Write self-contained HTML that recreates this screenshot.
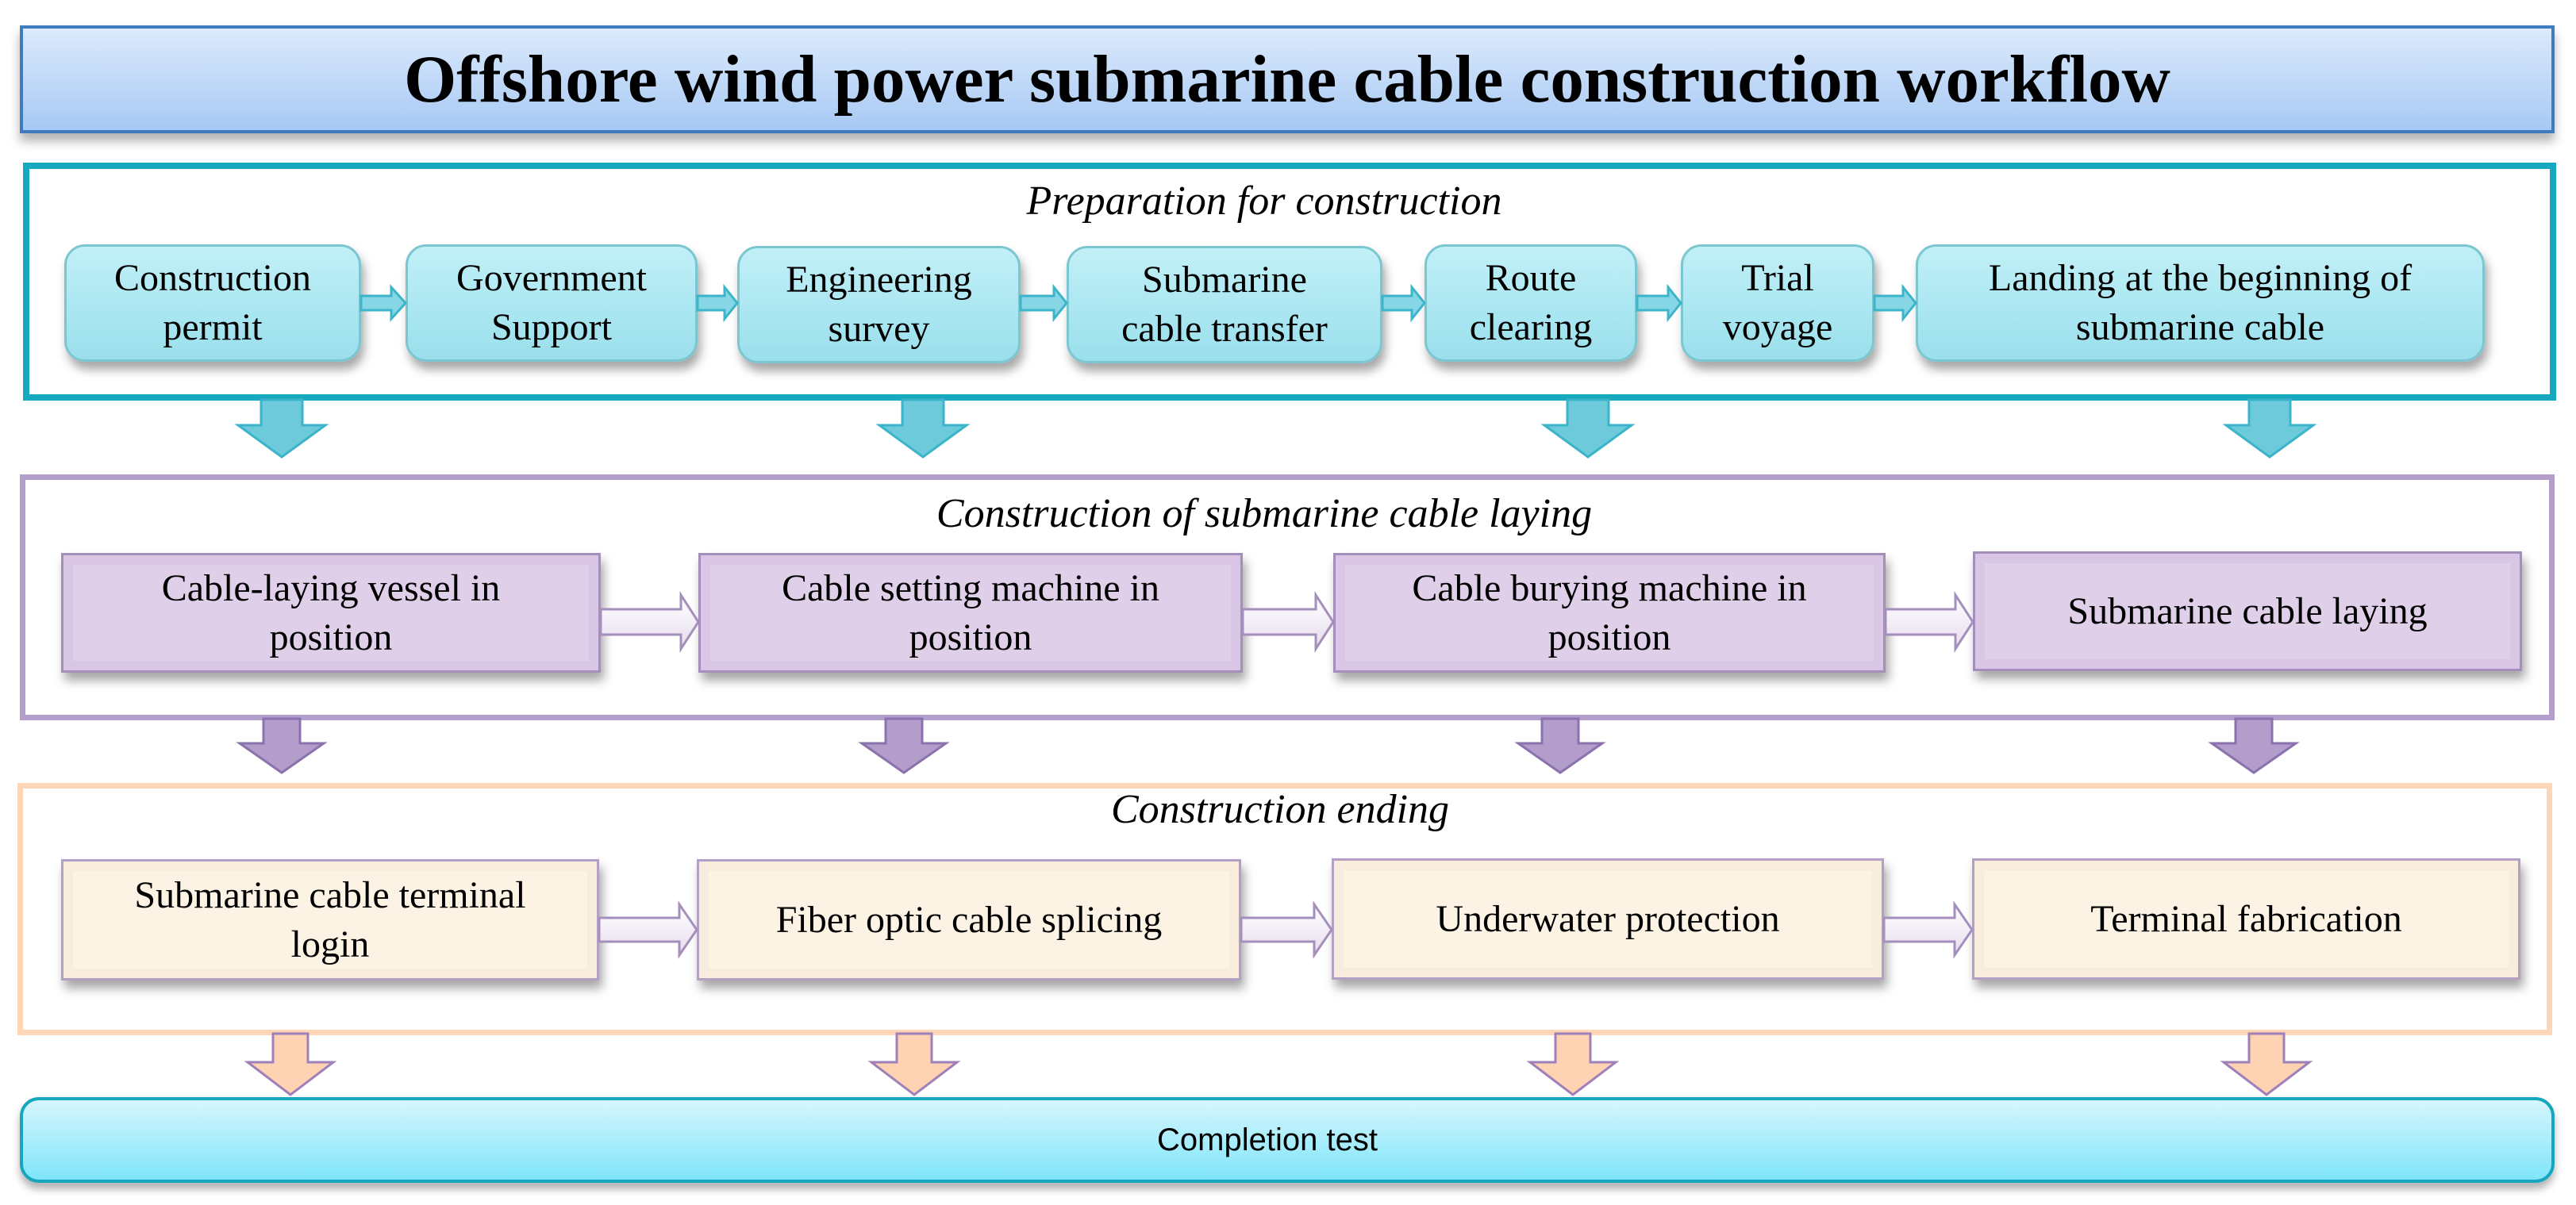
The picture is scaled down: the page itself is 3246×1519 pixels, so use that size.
<!DOCTYPE html>
<html><head><meta charset="utf-8">
<style>
body{margin:0;width:3246px;height:1519px;background:#fff;position:relative;overflow:hidden;font-family:"Liberation Serif",serif;}
.abs{position:absolute;box-sizing:border-box;}
.t{display:flex;align-items:center;justify-content:center;text-align:center;color:#000;}
.cy{border:3px solid #7cc6d2;border-radius:26px;background:linear-gradient(#c2f0f7,#a9e6f1 60%,#9adfeb);box-shadow:4px 10px 12px rgba(0,0,0,0.35);font-size:48px;line-height:62px;}
.pu{border:3px solid #a48fba;background:#e0cfe9;box-shadow:inset 0 0 0 12px #d9c6e4,4px 10px 12px rgba(0,0,0,0.35);font-size:48px;line-height:62px;}
.or{border:3px solid #b3a0c4;background:#fdf3e4;box-shadow:inset 0 0 0 12px #f8ecdc,4px 10px 12px rgba(0,0,0,0.35);font-size:48px;line-height:62px;}
.lab{font-style:italic;font-size:52px;width:3246px;left:0;text-align:center;}
</style></head><body>
<div class="abs t" style="left:25px;top:32px;width:3194px;height:136px;border:4px solid #3f7bbd;background:linear-gradient(#dceafc,#a7c9f4);box-shadow:0 10px 12px rgba(0,0,0,0.3);font-weight:bold;font-size:85px;">Offshore wind power submarine cable construction workflow</div>

<div class="abs" style="left:29px;top:205px;width:3192px;height:300px;border:8px solid #17a9bf;"></div>
<div class="abs" style="left:25px;top:598px;width:3194px;height:310px;border:7px solid #b49fca;"></div>
<div class="abs" style="left:22px;top:987px;width:3194px;height:318px;border:7px solid #fdd5b7;"></div>

<div class="abs lab" style="top:224px;left:-30px;">Preparation for construction</div>
<div class="abs lab" style="top:618px;left:-30px;">Construction of submarine cable laying</div>
<div class="abs lab" style="top:991px;left:-10px;">Construction ending</div>

<div class="abs t cy" style="left:81px;top:308px;width:374px;height:148px;">Construction<br>permit</div>
<div class="abs t cy" style="left:511px;top:308px;width:368px;height:148px;">Government<br>Support</div>
<div class="abs t cy" style="left:929px;top:310px;width:357px;height:148px;">Engineering<br>survey</div>
<div class="abs t cy" style="left:1344px;top:310px;width:398px;height:148px;">Submarine<br>cable transfer</div>
<div class="abs t cy" style="left:1795px;top:308px;width:268px;height:148px;">Route<br>clearing</div>
<div class="abs t cy" style="left:2118px;top:308px;width:244px;height:148px;">Trial<br>voyage</div>
<div class="abs t cy" style="left:2414px;top:308px;width:717px;height:148px;">Landing at the beginning of<br>submarine cable</div>

<div class="abs t pu" style="left:77px;top:697px;width:680px;height:151px;">Cable-laying vessel in<br>position</div>
<div class="abs t pu" style="left:880px;top:697px;width:686px;height:151px;">Cable setting machine in<br>position</div>
<div class="abs t pu" style="left:1680px;top:697px;width:696px;height:151px;">Cable burying machine in<br>position</div>
<div class="abs t pu" style="left:2486px;top:695px;width:692px;height:151px;">Submarine cable laying</div>

<div class="abs t or" style="left:77px;top:1083px;width:678px;height:153px;">Submarine cable terminal<br>login</div>
<div class="abs t or" style="left:878px;top:1083px;width:686px;height:153px;">Fiber optic cable splicing</div>
<div class="abs t or" style="left:1678px;top:1082px;width:696px;height:153px;">Underwater protection</div>
<div class="abs t or" style="left:2485px;top:1082px;width:691px;height:153px;">Terminal fabrication</div>

<div class="abs t" style="left:25px;top:1383px;width:3194px;height:108px;padding-right:50px;border:4px solid #16a6bd;border-radius:24px;background:linear-gradient(#d6f6fd,#7fe5fa);box-shadow:0 8px 10px rgba(0,0,0,0.3);font-family:'Liberation Sans',sans-serif;font-size:40px;">Completion test</div>

<svg class="abs" style="left:0;top:0" width="3246" height="1519">
<defs>
<linearGradient id="hg" x1="0" y1="0" x2="0" y2="1"><stop offset="0" stop-color="#ffffff"/><stop offset="1" stop-color="#e6dcee"/></linearGradient>
</defs>
<g fill="#86d6e5" stroke="#3cb4c9" stroke-width="3">
<polygon points="455,373 493,373 493,362 511,382 493,402 493,391 455,391"/>
<polygon points="879,373 913,373 913,362 929,382 913,402 913,391 879,391"/>
<polygon points="1286,373 1328,373 1328,362 1344,382 1328,402 1328,391 1286,391"/>
<polygon points="1742,373 1779,373 1779,362 1795,382 1779,402 1779,391 1742,391"/>
<polygon points="2063,373 2102,373 2102,362 2118,382 2102,402 2102,391 2063,391"/>
<polygon points="2362,373 2398,373 2398,362 2414,382 2398,402 2398,391 2362,391"/>
</g>
<g fill="url(#hg)" stroke="#a590bd" stroke-width="3">
<polygon points="757,768 858,768 858,750 880,784 858,818 858,800 757,800"/>
<polygon points="1566,768 1658,768 1658,750 1680,784 1658,818 1658,800 1566,800"/>
<polygon points="2376,768 2464,768 2464,750 2486,784 2464,818 2464,800 2376,800"/>
<polygon points="755,1157 856,1157 856,1140 878,1172 856,1204 856,1187 755,1187"/>
<polygon points="1564,1157 1656,1157 1656,1140 1678,1172 1656,1204 1656,1187 1564,1187"/>
<polygon points="2374,1157 2463,1157 2463,1140 2485,1172 2463,1204 2463,1187 2374,1187"/>
</g>
<g fill="#6ccadb" stroke="#3bb3c8" stroke-width="3">
<polygon points="329,504 381,504 381,536 410,536 355,576 300,536 329,536"/>
<polygon points="1137,504 1189,504 1189,536 1218,536 1163,576 1108,536 1137,536"/>
<polygon points="1975,504 2027,504 2027,536 2056,536 2001,576 1946,536 1975,536"/>
<polygon points="2834,504 2886,504 2886,536 2915,536 2860,576 2805,536 2834,536"/>
</g>
<g fill="#b39dcb" stroke="#8b72ae" stroke-width="3">
<polygon points="332,906 378,906 378,937 408,937 355,974 302,937 332,937"/>
<polygon points="1116,906 1162,906 1162,937 1192,937 1139,974 1086,937 1116,937"/>
<polygon points="1943,906 1989,906 1989,937 2019,937 1966,974 1913,937 1943,937"/>
<polygon points="2817,906 2863,906 2863,937 2893,937 2840,974 2787,937 2817,937"/>
</g>
<g fill="#fdd3b3" stroke="#9f80b8" stroke-width="3">
<polygon points="344,1303 388,1303 388,1339 420,1339 366,1380 312,1339 344,1339"/>
<polygon points="1130,1303 1174,1303 1174,1339 1206,1339 1152,1380 1098,1339 1130,1339"/>
<polygon points="1960,1303 2004,1303 2004,1339 2036,1339 1982,1380 1928,1339 1960,1339"/>
<polygon points="2834,1303 2878,1303 2878,1339 2910,1339 2856,1380 2802,1339 2834,1339"/>
</g>
</svg>
</body></html>
